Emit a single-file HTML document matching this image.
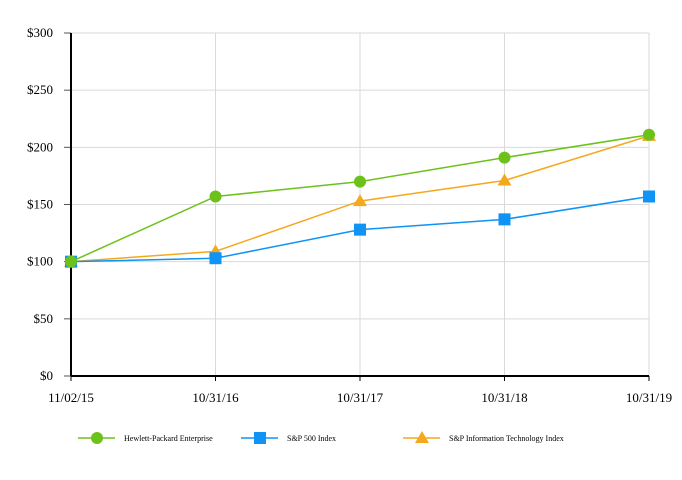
<!DOCTYPE html>
<html><head><meta charset="utf-8"><style>
body{margin:0;background:#fff}
svg{display:block;font-family:"Liberation Serif",serif}
</style></head><body>
<svg id="c" width="682" height="480"></svg>
<script>
const categories=["11/02/15","10/31/16","10/31/17","10/31/18","10/31/19"];
const hpeValues=[100,157,170,191,211];
const spValues=[100,103,128,137,157];
const itValues=[100,109,153,171,210];
const yTicks=[0,50,100,150,200,250,300];
const yTickLabels=["$0","$50","$100","$150","$200","$250","$300"];
const seriesNames=["Hewlett-Packard Enterprise","S&P 500 Index","S&P Information Technology Index"];

const NS="http://www.w3.org/2000/svg";
const svg=document.getElementById('c');
const X0=71,X1=649,Y0=376,Y1=33;
const xs=i=>X0+i*(X1-X0)/(categories.length-1);
const ys=v=>Y0-v*(Y0-Y1)/300;
function mk(t,a,p){const e=document.createElementNS(NS,t);for(const k in a)e.setAttribute(k,a[k]);(p||svg).appendChild(e);return e;}
yTicks.forEach((v,i)=>{
  if(v>0){const g=mk('line',{x1:X0,x2:X1,y1:ys(v),y2:ys(v),stroke:'#d9d9d9','stroke-width':1});
  
  }
  const tk=mk('line',{x1:X0-7,x2:X0,y1:ys(v),y2:ys(v),stroke:'#555','stroke-width':1});
  
  
  const t=mk('text',{x:53,y:ys(v)+4,'text-anchor':'end','font-size':13});
  t.textContent=yTickLabels[i];
  
  
});
categories.forEach((c,i)=>{
  if(i>0){const g=mk('line',{x1:xs(i),x2:xs(i),y1:Y1,y2:Y0,stroke:'#d9d9d9','stroke-width':1});
  
  }
  const tk=mk('line',{x1:xs(i),x2:xs(i),y1:Y0,y2:Y0+5,stroke:'#000'});
  
  
  const t=mk('text',{x:xs(i),y:Y0+26,'text-anchor':'middle','font-size':13});
  t.textContent=c;
  
  
});
const ya=mk('line',{x1:X0,x2:X0,y1:Y1,y2:Y0,stroke:'#000','stroke-width':2});


const xa=mk('line',{x1:X0,x2:X1,y1:Y0,y2:Y0,stroke:'#000','stroke-width':2});



function marker(type,x,y,color,p){
  let e;
  if(type==='circle')e=mk('circle',{cx:x,cy:y,r:6,fill:color},p);
  else if(type==='square')e=mk('rect',{x:x-6,y:y-6,width:12,height:12,fill:color},p);
  else e=mk('polygon',{points:`${x},${y-7} ${x+7},${y+5} ${x-7},${y+5}`,fill:color},p);
  return e;
}
const series=[
 {vals:itValues,color:'#f4a81d',type:'tri',name:'it'},
 {vals:spValues,color:'#0f93f5',type:'square',name:'sp500'},
 {vals:hpeValues,color:'#6cc21a',type:'circle',name:'hpe'}
];
series.forEach(s=>{
  const g=mk('g',{});
  
  
  mk('polyline',{points:s.vals.map((v,i)=>xs(i)+','+ys(v)).join(' '),fill:'none',stroke:s.color,'stroke-width':1.5},g);
  s.vals.forEach((v,i)=>{
    const m=marker(s.type,xs(i),ys(v),s.color,g);
    
    
  });
});
const leg=[[78,'#6cc21a','circle'],[241,'#0f93f5','square'],[403,'#f4a81d','tri']];
leg.forEach((l,i)=>{
  const g=mk('g',{});
  
  
  mk('line',{x1:l[0],x2:l[0]+37,y1:438,y2:438,stroke:l[1],'stroke-width':1.5},g);
  marker(l[2],l[0]+19,438,l[1],g);
  const t=mk('text',{x:l[0]+46,y:441,'font-size':8},g);
  t.textContent=seriesNames[i];
});
</script>
</body></html>
